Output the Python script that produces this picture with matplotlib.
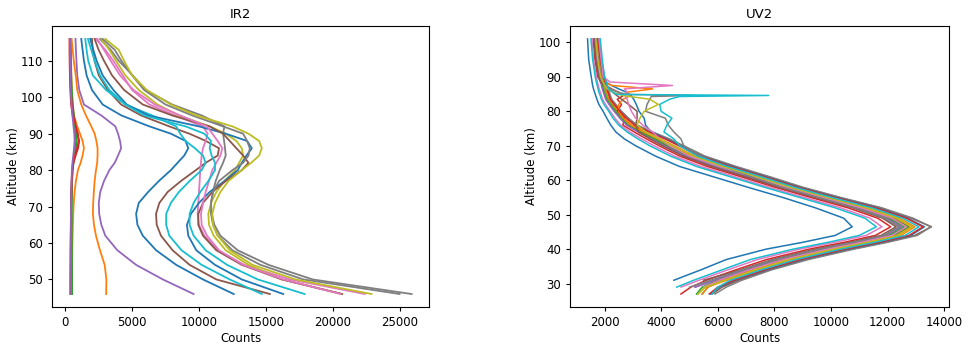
import numpy as np
import matplotlib
matplotlib.use("Agg")
import matplotlib.pyplot as plt

nan = np.nan

# --------------------------
# IR2 profiles (counts vs altitude)
# --------------------------
alt_ir = [116, 113, 110, 106, 102, 98, 95, 92, 90, 88, 86, 84, 82, 80, 77, 74, 71, 68, 65, 62, 58, 54, 50, 46]

ir_blue1 = [1200, 1300, 1400, 1600, 2000, 2800, 4200, 6300, 7900, 9000, 9200, 8900, 8400, 7900, 7000, 6200, 5500, 5300, 5400, 5800, 6800, 8300, 10300, 12600]
ir_orange1 = [420, 430, 440, 460, 500, 570, 650, 900, 1100, 1300, 1400, 1300, 1150, 950, 800, 700, 640, 600, 570, 550, 530, 510, 500, 490]
ir_green1 = [400, 410, 420, 450, 490, 560, 650, 760, 820, 850, 800, 700, 620, 560, 520, 500, 490, 480, 480, 480, 490, 500, 510, 520]
ir_red1 = [320, 320, 330, 350, 380, 440, 560, 760, 900, 1050, 960, 780, 620, 540, 500, 470, 450, 440, 430, 420, 410, 400, 400, 400]
ir_purple1 = [770, 800, 840, 900, 1050, 1400, 2700, 3750, 3950, 4100, 4180, 3950, 3700, 3300, 2900, 2620, 2510, 2540, 2700, 3000, 3900, 5300, 7300, 9600]
ir_brown1 = [2000, 2060, 2190, 2510, 3180, 4180, 5670, 7780, 9280, 10520, 11500, 11400, 10500, 9770, 8650, 7660, 7040, 6790, 6840, 7160, 8030, 9300, 11300, 15300]
ir_pink1 = [2300, 3000, 3600, 4300, 5000, 6300, 8200, 10300, 10650, 10500, 10300, 10200, 10150, 10100, 10050, 10000, 9950, 9900, 10000, 10400, 11400, 13400, 16800, 22400]
ir_gray1 = [2600, 3400, 4000, 5050, 6000, 8000, 10200, 11900, 11800, 11880, 11950, 12000, 11800, 11550, 11250, 11050, 10900, 10900, 11050, 11400, 12500, 14600, 17800, 25000]
ir_olive1 = [2700, 3300, 3800, 4500, 5500, 6900, 8500, 10800, 12000, 12800, 13200, 13300, 13000, 12700, 11900, 11300, 10900, 10700, 10750, 11100, 12000, 13700, 16200, 20700]
ir_cyan1 = [1500, 1600, 1720, 2060, 3050, 4500, 6500, 8300, 8600, 9000, 9700, 10300, 10500, 10200, 9300, 8500, 7900, 7550, 7550, 7780, 8700, 10200, 12300, 14700]
ir_blue2 = [1870, 2100, 2350, 2800, 3600, 4600, 6200, 10000, 12000, 13600, 13950, 13550, 13200, 12900, 11900, 10800, 10000, 9400, 9100, 9200, 9800, 11200, 13200, 16300]
ir_orange2 = [480, 560, 640, 790, 900, 1200, 1550, 1950, 2200, 2330, 2420, 2420, 2390, 2300, 2200, 2140, 2090, 2070, 2150, 2300, 2600, 2950, 3080, 3060]
ir_green2 = [380, 390, 400, 420, 460, 530, 620, 720, 780, 820, 760, 660, 580, 530, 500, 480, 470, 470, 470, 470, 480, 490, 500, 500]
ir_red2 = [350, 350, 360, 380, 420, 500, 620, 800, 950, 1000, 900, 720, 600, 520, 480, 460, 440, 430, 420, 410, 400, 400, 390, 390]
ir_purple2 = [360, 360, 370, 390, 420, 470, 540, 620, 680, 700, 660, 600, 540, 500, 470, 450, 440, 430, 430, 430, 430, 430, 440, 440]
ir_brown2 = [2200, 2500, 2900, 3500, 4400, 5800, 8000, 10800, 11800, 12300, 12800, 13300, 13700, 13200, 12000, 11000, 10300, 9950, 9950, 10300, 11300, 13200, 16200, 20700]
ir_pink2 = [2400, 2900, 3400, 4100, 5100, 6700, 8600, 10600, 11000, 11400, 11750, 11600, 11300, 11000, 10750, 10500, 10300, 10150, 10200, 10600, 11500, 13300, 16300, 20600]
ir_gray2 = [2800, 3700, 4200, 5000, 5900, 7500, 9500, 11800, 13300, 13600, 13800, 13700, 13300, 12500, 11500, 11050, 10900, 10950, 11150, 11600, 12900, 15200, 18500, 25900]
ir_olive2 = [3000, 4000, 4400, 5000, 6100, 7900, 9800, 12500, 13700, 14500, 14700, 14500, 13900, 13200, 12200, 11600, 11200, 11000, 11050, 11400, 12300, 14000, 17200, 22900]
ir_cyan2 = [1700, 1950, 2200, 2600, 3300, 4500, 5900, 9000, 10400, 10900, 10800, 10950, 11200, 11200, 10700, 10100, 9600, 9300, 9300, 9600, 10500, 12100, 14400, 17900]

ir_profiles = [ir_blue1, ir_orange1, ir_green1, ir_red1, ir_purple1,
               ir_brown1, ir_pink1, ir_gray1, ir_olive1, ir_cyan1,
               ir_blue2, ir_orange2, ir_green2, ir_red2, ir_purple2,
               ir_brown2, ir_pink2, ir_gray2, ir_olive2, ir_cyan2]

# --------------------------
# UV2 profiles
# --------------------------
alt_uv = [101, 95, 90, 88.5, 87.5, 86.5, 85.5, 84.5, 83.5, 82, 80, 78, 76, 74, 72, 70,
          67, 64, 61, 58, 55, 52, 49, 46.5, 44, 42, 40, 37, 34, 31, 29, 27]
# finer grid around the narrow spikes
alt_uv_spk = [101, 95, 90, 88.5, 87.5, 86.5, 85.5, 84.9, 84.6, 84.3, 83.5, 82, 80, 78, 76, 74, 72, 70,
              67, 64, 61, 58, 55, 52, 49, 46.5, 44, 42, 40, 37, 34, 31, 29, 27]

uv_blue_a = [1400, 1440, 1530, 1560, 1580, 1610, 1650, 1690, 1730, 1800, 1950, 2080, 2220, 2400, 2700, 3100, 3800, 4650, 5850, 7050, 8300, 9450, 10450, 10750, 10150, 9000, 7700, 6300, 5400, 4450, nan, nan]
uv_orange_a = [1720, 1800, 1910, 1970, 2000, 2030, 2070, 2110, 2150, 2280, 2470, 2700, 2960, 3440, 3980, 4460, 5200, 6250, 7450, 8610, 9940, 11330, 12410, 12970, 12470, 11400, 10180, 8620, 7400, 6330, 5600, nan]
uv_green_a = [1690, 1760, 1870, 1930, 1950, 1980, 2020, 2060, 2100, 2230, 2420, 2630, 2890, 3340, 3850, 4320, 5060, 6090, 7290, 8450, 9780, 11140, 12210, 12750, 12240, 11160, 9930, 8390, 7200, 6140, 5650, 5450]
uv_red_a = [1600, 1660, 1760, 1900, 2050, 2250, 2500, 2650, 2450, 2600, 2450, 2700, 2650, 3050, 3480, 3930, 4660, 5630, 6830, 8010, 9300, 10600, 11650, 12110, 11570, 10470, 9220, 7720, 6630, 5600, 5050, 4700]
uv_purple_a = [1650, 1720, 1830, 1880, 1910, 1940, 1980, 2020, 2060, 2180, 2360, 2570, 2810, 3220, 3710, 4170, 4900, 5910, 7110, 8280, 9590, 10930, 11990, 12500, 11980, 10890, 9650, 8130, 6980, 5930, 5200, nan]
uv_brown_a = [1780, 1870, 1990, 2050, 2080, 2110, 2150, 2190, 2230, 2380, 2580, 2830, 3120, 3660, 4250, 4750, 5500, 6590, 7790, 8940, 10290, 11730, 12830, 13550, 12960, 11910, 10710, 9110, 7830, 6730, 6150, 5800]
uv_pink_a = [1550, 1610, 1710, 1750, 1780, 1810, 1850, 1890, 1930, 2030, 2200, 2370, 2570, 2890, 3310, 3750, 4470, 5410, 6610, 7790, 9080, 10340, 11380, 11800, 11250, 10140, 8880, 7400, 6350, 5340, 4700, nan]
uv_gray_a = [1800, 1890, 2000, 2070, 2100, 2130, 2170, 2210, 2250, 2400, 2600, 2850, 3150, 3700, 4300, 4800, 5550, 6650, 7850, 9000, 10350, 11800, 12900, 13530, 13050, 12000, 10800, 9200, 7900, 6850, 6300, 5900]
uv_olive_a = [1670, 1750, 1850, 1910, 1930, 1960, 2000, 2040, 2080, 2210, 2390, 2600, 2850, 3280, 3790, 4260, 4990, 6010, 7210, 8380, 9690, 11050, 12120, 12640, 12120, 11040, 9810, 8270, 7100, 6050, 5550, 5300]
uv_cyan_a = [1520, 1580, 1670, 1710, 1740, 1770, 1800, 1850, 1890, 1980, 2150, 2300, 2500, 2800, 3180, 3600, 4330, 5250, 6450, 7640, 8900, 10150, 11200, 11600, 11000, 9900, 8650, 7150, 6150, 5150, 4550, nan]
uv_blue_b = [1770, 1850, 1960, 2050, 2250, 2500, 2790, 2950, 3030, 3120, 3220, 3400, 3450, 3650, 4170, 4660, 5410, 6490, 7690, 8840, 10190, 11610, 12700, 13300, 12820, 11760, 10550, 8970, 7700, 6610, 6050, 5750]
uv_orange_b = [1700, 1780, 1880, 2000, 2250, 3700, 2750, 2900, 2650, 2500, 2500, 2660, 2920, 3380, 3900, 4380, 5110, 6150, 7350, 8510, 9840, 11210, 12290, 12840, 12330, 11250, 10030, 8480, 7280, 6210, 5650, 5450]
uv_green_b = [1660, 1740, 1840, 1900, 1920, 1950, 1990, 2030, 2070, 2200, 2380, 2590, 2830, 3260, 3760, 4220, 4960, 5970, 7170, 8340, 9650, 11000, 12070, 12590, 12060, 10980, 9750, 8210, 7050, 6000, 5450, 5250]
uv_red_b = [1760, 1850, 1950, 2020, 2050, 2080, 2120, 2160, 2200, 2340, 2540, 2770, 3060, 3570, 4140, 4630, 5380, 6450, 7650, 8810, 10150, 11570, 12660, 13250, 12760, 11700, 10490, 8910, 7650, 6570, 6000, 5700]
uv_purple_b = [1640, 1710, 1810, 1870, 1890, 1920, 1960, 2000, 2040, 2160, 2340, 2540, 2780, 3180, 3660, 4120, 4850, 5850, 7050, 8220, 9530, 10860, 11920, 12420, 11890, 10800, 9560, 8040, 6900, 5860, 5200, nan]
uv_brown_b = [1620, 1690, 1790, 1850, 1990, 2150, 2300, 2450, 2600, 2850, 3150, 3150, 3100, 3200, 3600, 4050, 4780, 5770, 6970, 8140, 9450, 10770, 11820, 12300, 11770, 10680, 9440, 7920, 6800, 5500, nan, nan]
uv_pink_b = [1800, 1880, 1950, 2200, 4400, 2700, 2800, 2750, 2800, 2850, 2950, 3100, 3350, 3700, 3950, 4300, 5000, 6050, 7250, 8400, 9700, 11050, 12150, 12650, 12150, 11050, 9850, 8300, 7100, 6050, 5500, nan]
uv_gray_b = [1700, 1780, 1880, 1950, 2050, 2200, 2500, 2800, 5100, 3650, 3600, 3500, 3450, 4150, 4250, 4450, 4700, 4800, 5400, 6200, 7200, 8250, 9550, 10850, 11900, 12400, 11880, 10780, 9550, 8000, 6850, 5750, 5000, nan]
uv_olive_b = [1690, 1760, 1860, 1950, 2000, 2100, 2300, 2700, 3600, 3900, 3400, 3250, 3150, 3450, 3950, 4400, 5150, 6190, 7390, 8550, 9880, 11260, 12340, 12890, 12380, 11310, 10090, 8530, 7330, 6260, 5550, 5300]
uv_cyan_b = [1850, 1920, 2000, 2050, 2100, 2150, 2300, 2450, 7800, 4650, 4300, 3950, 4000, 4380, 4200, 4100, 4450, 4650, 5290, 6350, 7550, 8710, 10040, 11450, 12530, 13110, 12620, 11550, 10340, 8770, 7530, 6450, 6000, 5800]

uv_profiles = [(alt_uv, uv_blue_a), (alt_uv, uv_orange_a), (alt_uv, uv_green_a),
               (alt_uv, uv_red_a), (alt_uv, uv_purple_a), (alt_uv, uv_brown_a),
               (alt_uv, uv_pink_a), (alt_uv, uv_gray_a), (alt_uv, uv_olive_a),
               (alt_uv, uv_cyan_a), (alt_uv, uv_blue_b), (alt_uv, uv_orange_b),
               (alt_uv, uv_green_b), (alt_uv, uv_red_b), (alt_uv, uv_purple_b),
               (alt_uv, uv_brown_b), (alt_uv, uv_pink_b), (alt_uv_spk, uv_gray_b),
               (alt_uv, uv_olive_b), (alt_uv_spk, uv_cyan_b)]

# --------------------------
# PLOT
# --------------------------
plt.rcParams["font.size"] = 8.5
plt.rcParams["xtick.major.size"] = 3
plt.rcParams["ytick.major.size"] = 3

fig = plt.figure(figsize=(9.7, 3.49), dpi=100)
ax1 = fig.add_axes([0.054, 0.121, 0.388, 0.804])
ax2 = fig.add_axes([0.588, 0.121, 0.390, 0.804])

for counts in ir_profiles:
    ax1.plot(counts, alt_ir, linewidth=1.3)
ax1.set_title("IR2", fontsize=9.5)
ax1.set_xlabel("Counts", labelpad=2)
ax1.set_ylabel("Altitude (km)", labelpad=1)

for alts, counts in uv_profiles:
    ax2.plot(counts, alts, linewidth=1.1)
ax2.set_title("UV2", fontsize=9.5)
ax2.set_xlabel("Counts", labelpad=2)
ax2.set_ylabel("Altitude (km)", labelpad=1)

fig.savefig("out.png", dpi=100)
